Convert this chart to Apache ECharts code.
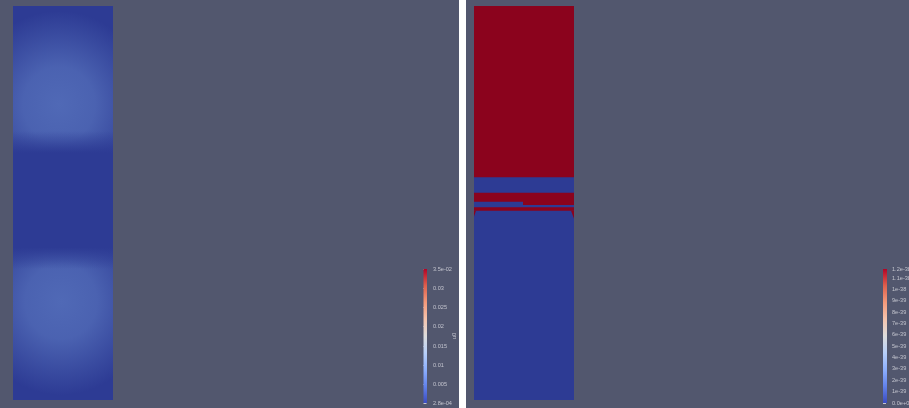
<!DOCTYPE html>
<html><head><meta charset="utf-8">
<script src="https://cdn.jsdelivr.net/npm/echarts@6/dist/echarts.min.js"></script>
<style>html,body{margin:0;padding:0;background:#fff}#c{width:909px;height:408px}</style>
</head><body><div id="c"></div>
<script>
// ---- left panel: u0 ----
const u0Min = 0.00028;
const u0Max = 0.0349;
const u0TickValues = [0.00028, 0.005, 0.01, 0.015, 0.02, 0.025, 0.03, 0.0349];
const u0TickLabels = ['2.8e-04', '0.005', '0.01', '0.015', '0.02', '0.025', '0.03', '3.5e-02'];
// field cells [x0, x1, y0, y1, value]
const u0Cells = [[0, 1, 0, 4, 0.00028]];
// bright lobes [x, y, rx, ry, value]
const u0Lobes = [[0.46, 3.0, 0.9, 0.95, 0.0052], [0.48, 1.0, 0.9, 0.95, 0.0052]];
// low band [yLow, yHigh, value]
const u0Band = [[1.55, 2.51, 0.00028]];

// ---- right panel (values in units of 1e-39) ----
const rMin = 0;
const rMax = 11.8;
const rTickValues = [0, 1, 2, 3, 4, 5, 6, 7, 8, 9, 10, 11, 11.8];
const rTickLabels = ['0.0e+00', '1e-39', '2e-39', '3e-39', '4e-39', '5e-39', '6e-39', '7e-39', '8e-39', '9e-39', '1e-38', '1.1e-38', '1.2e-38'];
const rCells = [
  [0, 1, 0, 4, 0],
  [0, 1, 2.261, 4, 11.8],
  [0, 1, 1.922, 2.105, 11.8],
  [0, 0.49, 1.956, 2.013, 0],
  [0.49, 1, 1.956, 1.98, 0]
];
const rSlivers = [
  [[0, 1.922], [0.02, 1.922], [0, 1.86], 11.8],
  [[0.97, 1.922], [1, 1.922], [1, 1.84], 11.8]
];

// ---- cool-to-warm colormap ----
const cmap = [[59,76,192],[98,130,234],[141,176,254],[184,208,249],[221,221,221],[245,196,173],[244,154,123],[222,96,77],[180,4,38]];
const SHADE = 0.77;
function cmapAt(t) {
  t = Math.max(0, Math.min(1, t));
  const p = t * (cmap.length - 1), i = Math.min(cmap.length - 2, Math.floor(p)), f = p - i;
  return cmap[i].map((v, k) => v + (cmap[i + 1][k] - v) * f);
}
function rgba(c, a, s) { s = s == null ? 1 : s; return 'rgba(' + c.map(v => Math.round(v * s)).join(',') + ',' + a + ')'; }
function fieldColor(v, lo, hi, a) { return rgba(cmapAt((v - lo) / (hi - lo)), a == null ? 1 : a, SHADE); }
function barGradient() {
  return new echarts.graphic.LinearGradient(0, 0, 0, 1,
    cmap.map((c, i) => ({ offset: i / (cmap.length - 1), color: rgba(cmap[cmap.length - 1 - i], 1) })));
}
function labelFor(values, labels) {
  return function (v) {
    let best = 0;
    values.forEach((x, i) => { if (Math.abs(x - v) < Math.abs(values[best] - v)) best = i; });
    return labels[best];
  };
}

function cellRender(lo, hi) {
  return function (params, api) {
    const a = api.coord([api.value(0), api.value(3)]);
    const b = api.coord([api.value(1), api.value(2)]);
    return { type: 'rect', shape: { x: a[0], y: a[1], width: b[0] - a[0], height: b[1] - a[1] },
      style: { fill: fieldColor(api.value(4), lo, hi) } };
  };
}
function barRender(params, api) {
  const a = api.coord([0, api.value(1)]), b = api.coord([1, api.value(0)]);
  return { type: 'rect', shape: { x: a[0], y: a[1], width: b[0] - a[0], height: b[1] - a[1] }, style: { fill: barGradient() } };
}

const TXT = '#c3c4ce';
const LABEL = { fontSize: 5.6, color: TXT, fontFamily: 'Liberation Sans' };
const FEATHER = 0.22;

const chart = echarts.init(document.getElementById('c'), null, { renderer: 'canvas' });
chart.setOption({
  backgroundColor: '#ffffff',
  animation: false,
  graphic: [
    { type: 'rect', z: -10, shape: { x: 0, y: 0, width: 459, height: 408 }, style: { fill: '#52576e' } },
    { type: 'rect', z: -10, shape: { x: 466, y: 0, width: 443, height: 408 }, style: { fill: '#52576e' } }
  ],
  grid: [
    { left: 13, top: 6, width: 100, height: 394, outerBoundsMode: 'none', containLabel: false },
    { left: 474, top: 6, width: 100, height: 394, outerBoundsMode: 'none', containLabel: false },
    { left: 423.5, top: 269, width: 3.5, height: 134, outerBoundsMode: 'none', containLabel: false },
    { left: 883, top: 269, width: 4, height: 134, outerBoundsMode: 'none', containLabel: false }
  ],
  xAxis: [0, 1, 2, 3].map(i => ({ gridIndex: i, type: 'value', min: 0, max: 1, show: false })),
  yAxis: [
    { gridIndex: 0, type: 'value', min: 0, max: 4, show: false },
    { gridIndex: 1, type: 'value', min: 0, max: 4, show: false },
    { gridIndex: 2, type: 'value', min: u0Min, max: u0Max, position: 'right',
      axisLine: { show: false }, splitLine: { show: false },
      axisTick: { show: true, customValues: u0TickValues, length: 3, lineStyle: { color: TXT, width: 1 } },
      axisLabel: Object.assign({ customValues: u0TickValues, margin: 6, formatter: labelFor(u0TickValues, u0TickLabels) }, LABEL),
      name: 'u0', nameLocation: 'middle', nameRotate: 90, nameGap: 24, nameMoveOverlap: false,
      nameTextStyle: { fontSize: 6, color: TXT, fontFamily: 'Liberation Sans' } },
    { gridIndex: 3, type: 'value', min: rMin, max: rMax, position: 'right',
      axisLine: { show: false }, splitLine: { show: false },
      axisTick: { show: true, customValues: rTickValues, length: 3, lineStyle: { color: TXT, width: 1 } },
      axisLabel: Object.assign({ customValues: rTickValues, margin: 5, formatter: labelFor(rTickValues, rTickLabels) }, LABEL) }
  ],
  series: [
    { type: 'custom', xAxisIndex: 0, yAxisIndex: 0, clip: true, data: u0Cells, renderItem: cellRender(u0Min, u0Max) },
    { type: 'custom', xAxisIndex: 0, yAxisIndex: 0, clip: true, data: u0Lobes,
      renderItem: function (params, api) {
        const c = api.coord([api.value(0), api.value(1)]);
        const s = api.size([api.value(2), api.value(3)]);
        const rx = Math.abs(s[0]), ry = Math.abs(s[1]);
        const v = api.value(4);
        return { type: 'circle', x: c[0], y: c[1], scaleY: ry / rx, shape: { cx: 0, cy: 0, r: rx },
          style: { fill: new echarts.graphic.RadialGradient(0.5, 0.5, 0.5, [
            { offset: 0, color: fieldColor(v, u0Min, u0Max, 1) },
            { offset: 0.4, color: fieldColor(v, u0Min, u0Max, 0.85) },
            { offset: 0.75, color: fieldColor(v, u0Min, u0Max, 0.35) },
            { offset: 1, color: fieldColor(v, u0Min, u0Max, 0) }]) } };
      } },
    { type: 'custom', xAxisIndex: 0, yAxisIndex: 0, clip: true, data: u0Band,
      renderItem: function (params, api) {
        const lo = api.value(0), hi = api.value(1), v = api.value(2);
        const a = api.coord([0, hi + FEATHER]);
        const b = api.coord([1, lo - FEATHER]);
        const f = FEATHER / (hi - lo + 2 * FEATHER);
        return { type: 'rect', shape: { x: a[0], y: a[1], width: b[0] - a[0], height: b[1] - a[1] },
          style: { fill: new echarts.graphic.LinearGradient(0, 0, 0, 1, [
            { offset: 0, color: fieldColor(v, u0Min, u0Max, 0) },
            { offset: f, color: fieldColor(v, u0Min, u0Max, 1) },
            { offset: 1 - f, color: fieldColor(v, u0Min, u0Max, 1) },
            { offset: 1, color: fieldColor(v, u0Min, u0Max, 0) }]) } };
      } },
    { type: 'custom', xAxisIndex: 1, yAxisIndex: 1, clip: true, data: rCells, renderItem: cellRender(rMin, rMax) },
    { type: 'custom', xAxisIndex: 1, yAxisIndex: 1, clip: true, data: rSlivers.map((s, i) => [i, s[3]]),
      renderItem: function (params, api) {
        const s = rSlivers[api.value(0)];
        return { type: 'polygon', shape: { points: s.slice(0, 3).map(p => api.coord(p)) },
          style: { fill: fieldColor(api.value(1), rMin, rMax) } };
      } },
    { type: 'custom', xAxisIndex: 2, yAxisIndex: 2, clip: false, data: [[u0Min, u0Max]], renderItem: barRender },
    { type: 'custom', xAxisIndex: 3, yAxisIndex: 3, clip: false, data: [[rMin, rMax]], renderItem: barRender }
  ]
});
</script></body></html>
